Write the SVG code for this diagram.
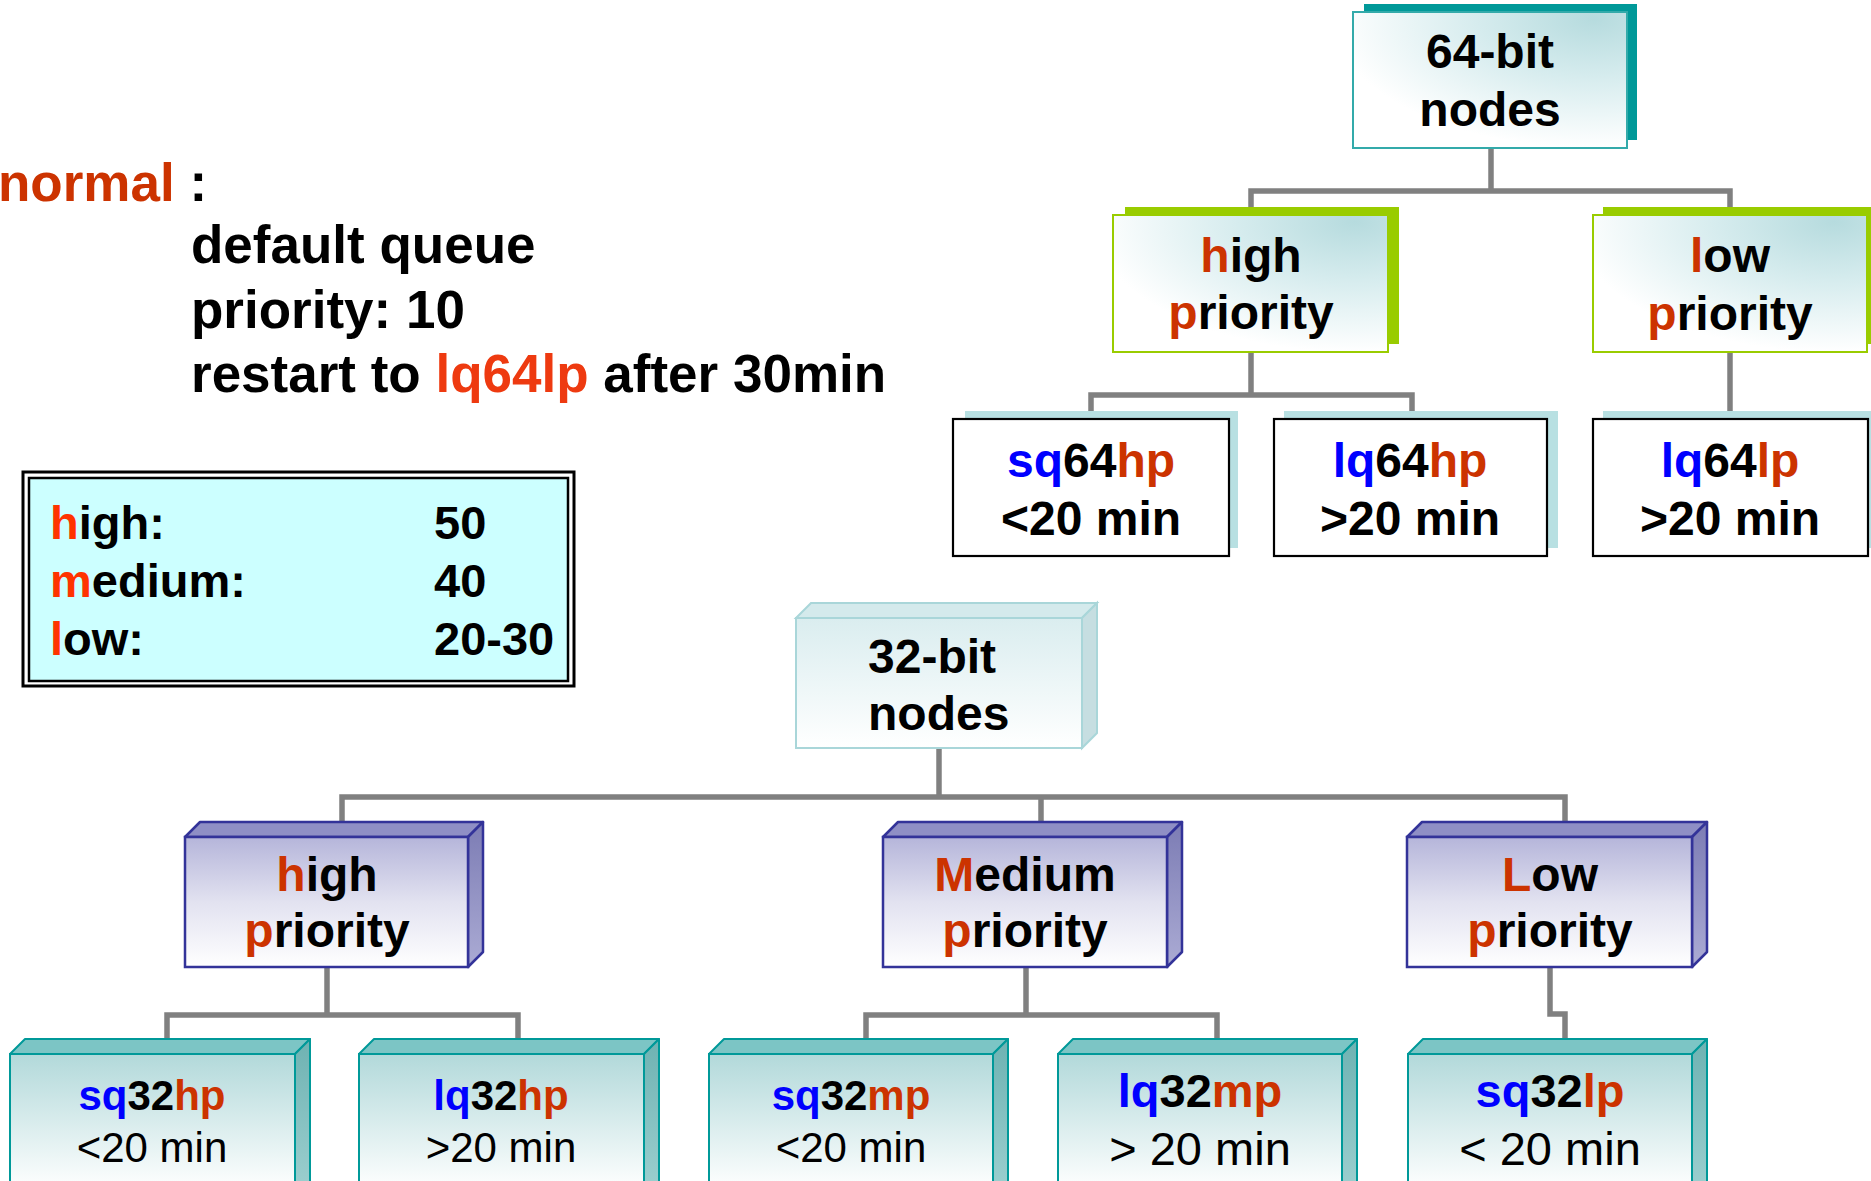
<svg xmlns="http://www.w3.org/2000/svg" width="1871" height="1181" viewBox="0 0 1871 1181">
  <defs>
    <style>
      text { font-family: "Liberation Sans", Arial, sans-serif; fill: #000; }
      .b { font-weight: bold; }
      .c { text-anchor: middle; }
      .f53 { font-size: 53px; }
      .f48 { font-size: 48px; }
      .f47 { font-size: 47px; }
      .f42 { font-size: 42px; }
      .red { fill: #CC3300; }
      .hot { fill: #FF3300; }
      .blue { fill: #0000FF; }
      .sky { fill: url(#gSky); }
      .pale { fill: url(#gPale); stroke: #A9D6D9; stroke-width: 2; }
      .paleTop { fill: #D4EAEC; stroke: #A9D6D9; stroke-width: 2; }
      .paleSide { fill: #C6DEE1; stroke: #A9D6D9; stroke-width: 2; }
      .pf { fill: url(#gPurple); stroke: #333399; stroke-width: 2.5; }
      .pt { fill: #8F8FC5; stroke: #333399; stroke-width: 2.5; stroke-linejoin: round; }
      .ps { fill: url(#gPurpleSide); stroke: #333399; stroke-width: 2.5; stroke-linejoin: round; }
      .tf { fill: url(#gTeal); stroke: #009999; stroke-width: 2; }
      .tt { fill: #7CC5C5; stroke: #009999; stroke-width: 2; stroke-linejoin: round; }
      .ts { fill: url(#gTealSide); stroke: #009999; stroke-width: 2; stroke-linejoin: round; }
      .leaf { fill: #FFFFFF; stroke: #000; stroke-width: 2.2; }
      .leafShadow { fill: #B8E0E2; }
    </style>
    <radialGradient id="gSky" cx="0.88" cy="0.05" r="0.95">
      <stop offset="0" stop-color="#B6DBDE"/>
      <stop offset="0.45" stop-color="#D6ECEE"/>
      <stop offset="1" stop-color="#FFFFFF"/>
    </radialGradient>
    <linearGradient id="gPale" x1="0" y1="0" x2="0" y2="1">
      <stop offset="0" stop-color="#DAEDEF"/>
      <stop offset="1" stop-color="#FFFFFF"/>
    </linearGradient>
    <linearGradient id="gPurple" x1="0" y1="0" x2="0" y2="1">
      <stop offset="0" stop-color="#B5B5DA"/>
      <stop offset="0.5" stop-color="#E2E2F0"/>
      <stop offset="1" stop-color="#FFFFFF"/>
    </linearGradient>
    <linearGradient id="gPurpleSide" x1="0" y1="0" x2="0" y2="1">
      <stop offset="0" stop-color="#7C7CB4"/>
      <stop offset="1" stop-color="#ABABD4"/>
    </linearGradient>
    <linearGradient id="gTeal" gradientUnits="userSpaceOnUse" x1="0" y1="1054" x2="0" y2="1190">
      <stop offset="0" stop-color="#B2D9DA"/>
      <stop offset="1" stop-color="#FFFFFF"/>
    </linearGradient>
    <linearGradient id="gTealSide" gradientUnits="userSpaceOnUse" x1="0" y1="1039" x2="0" y2="1190">
      <stop offset="0" stop-color="#6EB2B2"/>
      <stop offset="1" stop-color="#9CCFCF"/>
    </linearGradient>
  </defs>

  <rect x="0" y="0" width="1871" height="1181" fill="#FFFFFF"/>

  <!-- queue description -->
  <g id="normal-note">
    <text class="b f53" x="-2" y="201"><tspan class="red">normal</tspan> :</text>
    <text class="b f53" x="191" y="263">default queue</text>
    <text class="b f53" x="191" y="328">priority: 10</text>
    <text class="b f53" x="191" y="392">restart to <tspan fill="#EE3A10">lq64lp</tspan> after 30min</text>
  </g>

  <!-- priority legend -->
  <g id="legend">
    <rect x="23" y="472" width="551" height="214" fill="#FFFFFF" stroke="#000" stroke-width="3"/>
    <rect x="29" y="478" width="539" height="203" fill="#CCFFFF" stroke="#000" stroke-width="2.5"/>
    <text class="b f47" x="50" y="539"><tspan class="hot">h</tspan>igh:</text>
    <text class="b f47" x="50" y="597"><tspan class="hot">m</tspan>edium:</text>
    <text class="b f47" x="50" y="655"><tspan class="hot">l</tspan>ow:</text>
    <text class="b f47" x="434" y="539">50</text>
    <text class="b f47" x="434" y="597">40</text>
    <text class="b f47" x="434" y="655">20-30</text>
  </g>

  <!-- tree connectors -->
  <g id="connectors" fill="none" stroke="#808080" stroke-width="5.5" stroke-linejoin="miter">
    <path d="M1491,148 V191"/>
    <path d="M1251,210 V191 H1730 V210"/>
    <path d="M1251,352 V395"/>
    <path d="M1091,414 V395 H1412 V414"/>
    <path d="M1730,352 V414"/>
    <path d="M939,748 V797"/>
    <path d="M342,824 V797 H1565 V824"/>
    <path d="M1041,797 V824"/>
    <path d="M327,967 V1015"/>
    <path d="M167,1041 V1015 H518 V1041"/>
    <path d="M1026,967 V1015"/>
    <path d="M866,1041 V1015 H1217 V1041"/>
    <path d="M1550,967 V1014 H1565 V1041"/>
  </g>

  <!-- 64-bit tree -->
  <g id="node-64bit">
    <rect x="1364" y="4" width="273" height="136" fill="#009999"/>
    <rect class="sky" x="1353" y="12" width="274" height="136" stroke="#33AAAA" stroke-width="2"/>
    <text class="b f48 c" x="1490" y="68">64-bit</text>
    <text class="b f48 c" x="1490" y="126">nodes</text>
  </g>
  <g id="node-64-high">
    <rect x="1125" y="207" width="274" height="137" fill="#99CC00"/>
    <rect class="sky" x="1113" y="215" width="275" height="137" stroke="#99CC00" stroke-width="2"/>
    <text class="b f48 c" x="1251" y="272"><tspan class="red">h</tspan>igh</text>
    <text class="b f48 c" x="1251" y="329"><tspan class="red">p</tspan>riority</text>
  </g>
  <g id="node-64-low">
    <rect x="1603" y="207" width="274" height="137" fill="#99CC00"/>
    <rect class="sky" x="1593" y="215" width="274" height="137" stroke="#99CC00" stroke-width="2"/>
    <text class="b f48 c" x="1730" y="272"><tspan class="red">l</tspan>ow</text>
    <text class="b f48 c" x="1730" y="330"><tspan class="red">p</tspan>riority</text>
  </g>
  <g id="node-sq64hp">
    <rect class="leafShadow" x="965" y="411" width="273" height="137"/>
    <rect class="leaf" x="953" y="419" width="276" height="137"/>
    <text class="b f48 c" x="1091" y="477"><tspan class="blue">sq</tspan>64<tspan class="red">hp</tspan></text>
    <text class="b f48 c" x="1091" y="535">&lt;20 min</text>
  </g>
  <g id="node-lq64hp">
    <rect class="leafShadow" x="1284" y="411" width="274" height="137"/>
    <rect class="leaf" x="1274" y="419" width="273" height="137"/>
    <text class="b f48 c" x="1410" y="477"><tspan class="blue">lq</tspan>64<tspan class="red">hp</tspan></text>
    <text class="b f48 c" x="1410" y="535">&gt;20 min</text>
  </g>
  <g id="node-lq64lp">
    <rect class="leafShadow" x="1603" y="411" width="274" height="137"/>
    <rect class="leaf" x="1593" y="419" width="275" height="137"/>
    <text class="b f48 c" x="1730" y="477"><tspan class="blue">lq</tspan>64<tspan class="red">lp</tspan></text>
    <text class="b f48 c" x="1730" y="535">&gt;20 min</text>
  </g>

  <!-- 32-bit tree -->
  <g id="node-32bit">
    <polygon class="paleTop" points="796,618 811,603 1097,603 1082,618"/>
    <polygon class="paleSide" points="1082,618 1097,603 1097,733 1082,748"/>
    <rect class="pale" x="796" y="618" width="286" height="130"/>
    <text class="b f48" x="868" y="673">32-bit</text>
    <text class="b f48" x="868" y="730">nodes</text>
  </g>
  <g id="node-32-high">
    <polygon class="pt" points="185,837 200,822 483,822 468,837"/>
    <polygon class="ps" points="468,837 483,822 483,952 468,967"/>
    <rect class="pf" x="185" y="837" width="283" height="130"/>
    <text class="b f48 c" x="327" y="891"><tspan class="red">h</tspan>igh</text>
    <text class="b f48 c" x="327" y="947"><tspan class="red">p</tspan>riority</text>
  </g>
  <g id="node-32-medium">
    <polygon class="pt" points="883,837 898,822 1182,822 1167,837"/>
    <polygon class="ps" points="1167,837 1182,822 1182,952 1167,967"/>
    <rect class="pf" x="883" y="837" width="284" height="130"/>
    <text class="b f48 c" x="1025" y="891"><tspan class="red">M</tspan>edium</text>
    <text class="b f48 c" x="1025" y="947"><tspan class="red">p</tspan>riority</text>
  </g>
  <g id="node-32-low">
    <polygon class="pt" points="1407,837 1422,822 1707,822 1692,837"/>
    <polygon class="ps" points="1692,837 1707,822 1707,952 1692,967"/>
    <rect class="pf" x="1407" y="837" width="285" height="130"/>
    <text class="b f48 c" x="1550" y="891"><tspan class="red">L</tspan>ow</text>
    <text class="b f48 c" x="1550" y="947"><tspan class="red">p</tspan>riority</text>
  </g>
  <g id="node-sq32hp">
    <polygon class="tt" points="10,1054 25,1039 310,1039 295,1054"/>
    <polygon class="ts" points="295,1054 310,1039 310,1200 295,1200"/>
    <rect class="tf" x="10" y="1054" width="285" height="150"/>
    <text class="b f42 c" x="152" y="1110"><tspan class="blue">sq</tspan>32<tspan class="red">hp</tspan></text>
    <text class="f42 c" x="152" y="1162">&lt;20 min</text>
  </g>
  <g id="node-lq32hp">
    <polygon class="tt" points="359,1054 374,1039 659,1039 644,1054"/>
    <polygon class="ts" points="644,1054 659,1039 659,1200 644,1200"/>
    <rect class="tf" x="359" y="1054" width="285" height="150"/>
    <text class="b f42 c" x="501" y="1110"><tspan class="blue">lq</tspan>32<tspan class="red">hp</tspan></text>
    <text class="f42 c" x="501" y="1162">&gt;20 min</text>
  </g>
  <g id="node-sq32mp">
    <polygon class="tt" points="709,1054 724,1039 1008,1039 993,1054"/>
    <polygon class="ts" points="993,1054 1008,1039 1008,1200 993,1200"/>
    <rect class="tf" x="709" y="1054" width="284" height="150"/>
    <text class="b f42 c" x="851" y="1110"><tspan class="blue">sq</tspan>32<tspan class="red">mp</tspan></text>
    <text class="f42 c" x="851" y="1162">&lt;20 min</text>
  </g>
  <g id="node-lq32mp">
    <polygon class="tt" points="1058,1054 1073,1039 1357,1039 1342,1054"/>
    <polygon class="ts" points="1342,1054 1357,1039 1357,1200 1342,1200"/>
    <rect class="tf" x="1058" y="1054" width="284" height="150"/>
    <text class="b f47 c" x="1200" y="1107"><tspan class="blue">lq</tspan>32<tspan class="red">mp</tspan></text>
    <text class="f47 c" x="1200" y="1165">&gt; 20 min</text>
  </g>
  <g id="node-sq32lp">
    <polygon class="tt" points="1408,1054 1423,1039 1707,1039 1692,1054"/>
    <polygon class="ts" points="1692,1054 1707,1039 1707,1200 1692,1200"/>
    <rect class="tf" x="1408" y="1054" width="284" height="150"/>
    <text class="b f47 c" x="1550" y="1107"><tspan class="blue">sq</tspan>32<tspan class="red">lp</tspan></text>
    <text class="f47 c" x="1550" y="1165">&lt; 20 min</text>
  </g>
</svg>
